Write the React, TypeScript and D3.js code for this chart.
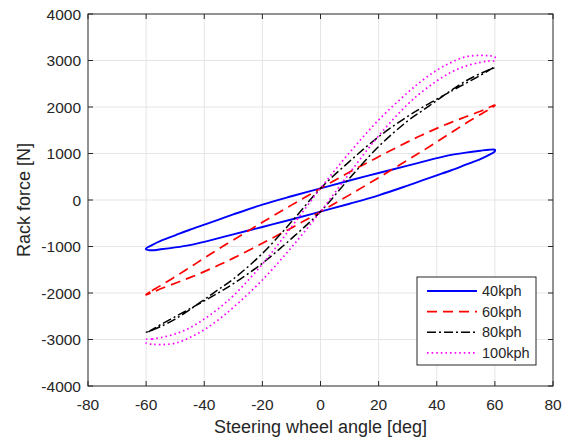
import React from "react";
import * as d3 from "d3";

// steering wheel angle samples [deg]
const angles = [-60, -58, -55, -50, -45, -40, -35, -30, -20, -10, 0, 10, 20, 30, 35, 40, 45, 50, 55, 58, 60];

// rack force [N], one branch going up and the return branch
const up40 = [-1040, -970, -880, -760, -640, -530, -420, -310, -100, 80, 250, 420, 580, 740, 820, 900, 970, 1020, 1060, 1080, 1080];
const down40 = [-1060, -1080, -1060, -1020, -970, -900, -820, -740, -580, -420, -250, -80, 100, 310, 420, 530, 640, 760, 880, 970, 1050];

const up60 = [-2030, -1950, -1840, -1650, -1450, -1250, -1050, -860, -480, -110, 250, 600, 930, 1250, 1400, 1540, 1670, 1790, 1910, 1990, 2040];
const down60 = [-2040, -1990, -1910, -1790, -1670, -1540, -1400, -1250, -930, -600, -250, 110, 480, 860, 1050, 1250, 1450, 1650, 1840, 1950, 2030];

const up80 = [-2850, -2800, -2720, -2560, -2360, -2140, -1920, -1700, -1150, -470, 250, 830, 1360, 1800, 1990, 2170, 2340, 2510, 2680, 2790, 2860];
const down80 = [-2860, -2790, -2680, -2510, -2340, -2170, -1990, -1800, -1360, -830, -250, 470, 1150, 1700, 1920, 2140, 2360, 2560, 2720, 2800, 2850];

const up100 = [-3000, -2990, -2960, -2880, -2750, -2560, -2330, -2060, -1380, -580, 250, 1020, 1720, 2310, 2570, 2790, 2960, 3080, 3110, 3100, 3080];
const down100 = [-3080, -3100, -3110, -3080, -2960, -2790, -2570, -2310, -1720, -1020, -250, 580, 1380, 2060, 2330, 2560, 2750, 2880, 2960, 2990, 3000];

const xTicks = [-80, -60, -40, -20, 0, 20, 40, 60, 80];
const yTicks = [-4000, -3000, -2000, -1000, 0, 1000, 2000, 3000, 4000];

const series = [
  { name: "40kph", up: up40, down: down40, color: "#0000ff", dash: "none", width: 1.9 },
  { name: "60kph", up: up60, down: down60, color: "#ff0000", dash: "10,6", width: 1.7 },
  { name: "80kph", up: up80, down: down80, color: "#000000", dash: "9,3,2,3", width: 1.5 },
  { name: "100kph", up: up100, down: down100, color: "#ff00ff", dash: "1.6,3", width: 1.7 },
];

const W = 568;
const H = 443;
const left = 88;
const right = 553;
const top = 14;
const bottom = 386;
const txt = "#262626";
const font = "Liberation Sans, Arial, sans-serif";

export default function App() {
  const x = d3.scaleLinear().domain([-80, 80]).range([left, right]);
  const y = d3.scaleLinear().domain([-4000, 4000]).range([bottom, top]);

  const line = d3
    .line<[number, number]>()
    .x((d) => x(d[0]))
    .y((d) => y(d[1]))
    .curve(d3.curveCatmullRomClosed);

  const loop = (s: typeof series[number]) => {
    const pts: [number, number][] = [];
    angles.forEach((a, i) => pts.push([a, s.up[i]]));
    for (let i = angles.length - 1; i >= 0; i--) pts.push([angles[i], s.down[i]]);
    return line(pts) || "";
  };

  const legX = 417;
  const legY = 277;

  return (
    <svg width={W} height={H} style={{ position: "absolute", left: 0, top: 0, background: "#fff" }} fontFamily={font}>
      <rect x={0} y={0} width={W} height={H} fill="#fff" />
      {/* grid */}
      {xTicks.slice(1, -1).map((t) => (
        <line key={"gx" + t} x1={x(t)} x2={x(t)} y1={top} y2={bottom} stroke="#e5e5e5" strokeWidth={1} />
      ))}
      {yTicks.slice(1, -1).map((t) => (
        <line key={"gy" + t} x1={left} x2={right} y1={y(t)} y2={y(t)} stroke="#e5e5e5" strokeWidth={1} />
      ))}
      {/* curves */}
      {series.map((s) => (
        <path
          key={s.name}
          d={loop(s)}
          fill="none"
          stroke={s.color}
          strokeWidth={s.width}
          strokeDasharray={s.dash}
          strokeLinejoin="round"
        />
      ))}
      {/* box and ticks */}
      <rect x={left} y={top} width={right - left} height={bottom - top} fill="none" stroke={txt} strokeWidth={1} />
      {xTicks.map((t) => (
        <g key={"tx" + t}>
          <line x1={x(t)} x2={x(t)} y1={bottom} y2={bottom - 5} stroke={txt} />
          <line x1={x(t)} x2={x(t)} y1={top} y2={top + 5} stroke={txt} />
          <text x={x(t)} y={bottom + 24} textAnchor="middle" fontSize={15.5} fill={txt}>
            {t}
          </text>
        </g>
      ))}
      {yTicks.map((t) => (
        <g key={"ty" + t}>
          <line x1={left} x2={left + 5} y1={y(t)} y2={y(t)} stroke={txt} />
          <line x1={right} x2={right - 5} y1={y(t)} y2={y(t)} stroke={txt} />
          <text x={left - 7} y={y(t) + 5.5} textAnchor="end" fontSize={15.5} fill={txt}>
            {t}
          </text>
        </g>
      ))}
      {/* axis labels */}
      <text x={(left + right) / 2} y={433} textAnchor="middle" fontSize={18} fill={txt}>
        Steering wheel angle [deg]
      </text>
      <text transform={`translate(30,${(top + bottom) / 2}) rotate(-90)`} textAnchor="middle" fontSize={18} fill={txt}>
        Rack force [N]
      </text>
      {/* legend */}
      <rect x={legX} y={legY} width={119} height={88} fill="#fff" stroke={txt} strokeWidth={1} />
      {series.map((s, i) => (
        <g key={"lg" + s.name} transform={`translate(0,${legY + 14 + i * 20.6})`}>
          <line x1={427} x2={477} y1={0} y2={0} stroke={s.color} strokeWidth={s.width} strokeDasharray={s.dash} />
          <text x={482} y={5} fontSize={14.5} fill={txt}>
            {s.name}
          </text>
        </g>
      ))}
    </svg>
  );
}
